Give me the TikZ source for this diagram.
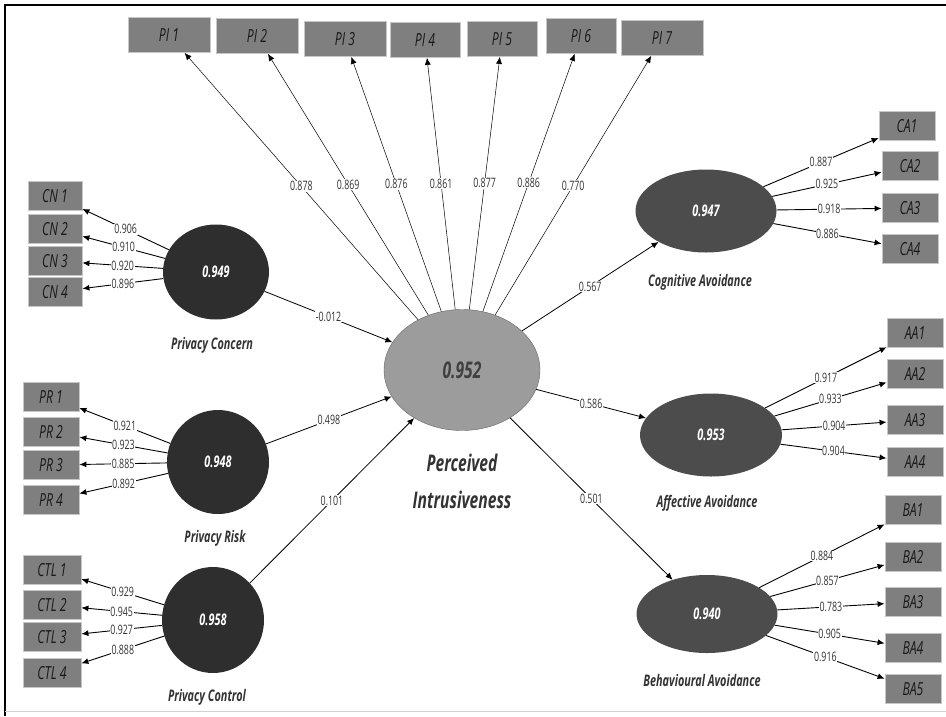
\documentclass[tikz,border=0pt]{standalone}
\usepackage{fontspec}
\setmainfont{Open Sans}[FakeStretch=0.68]
\usetikzlibrary{shapes.geometric,arrows.meta}

\definecolor{boxgray}{HTML}{7F7F7F}
\definecolor{latdark}{HTML}{2E2E2E}
\definecolor{latmid}{HTML}{4C4C4C}
\definecolor{latlight}{HTML}{9C9C9C}

\tikzset{
    ind/.style={rectangle, fill=boxgray, draw=gray!45, line width=0.8pt, minimum width=56pt, minimum height=29pt, inner sep=0pt, text=black!90, font=\itshape\fontsize{18}{18}\selectfont},
    pibox/.style={ind, minimum width=70pt, minimum height=35pt},
    lat/.style={ellipse, inner sep=0pt, text=white, font=\bfseries\itshape\fontsize{16}{16}\selectfont},
    latlab/.style={text=black!80, font=\bfseries\itshape\fontsize{16}{16}\selectfont},
    val/.style={fill=white, inner sep=0.6pt, text=black!80, font=\fontsize{13}{13}\selectfont},
    loading/.style={-{Latex[length=7pt,width=6pt]}, line width=0.9pt},
    thinload/.style={-{Latex[length=7pt,width=6pt]}, line width=0.5pt},
    coef/.style={-{Latex[length=7pt,width=6pt]}, line width=0.8pt},
}

\begin{document}
\begin{tikzpicture}[x=1pt, y=-1pt]
    \useasboundingbox (0,0) rectangle (946,716);
    \draw[line width=2pt] (5,716) -- (5,5) -- (946,5);
    \draw[gray!35, line width=1pt] (5,711) -- (946,711);

    \node[lat, fill=latlight, draw=black!60, minimum width=156pt, minimum height=121pt, text=black!75, font=\bfseries\itshape\fontsize{23}{23}\selectfont] (pi) at (462,370) {0.952};
    \node[latlab, align=center, font=\bfseries\itshape\fontsize{23}{37}\selectfont] (pilab) at (462,481) {Perceived\\Intrusiveness};

    \node[lat, fill=latdark, minimum width=106pt, minimum height=95pt] (pc) at (216,272) {0.949};
    \node[lat, fill=latdark, minimum width=102pt, minimum height=104pt] (pr) at (218,462) {0.948};
    \node[lat, fill=latdark, minimum width=102pt, minimum height=106pt] (pctl) at (213,620) {0.958};
    \node[latlab] (pclab) at (212,345) {Privacy Concern};
    \node[latlab] (prlab) at (215,538) {Privacy Risk};
    \node[latlab] (pctllab) at (207,697) {Privacy Control};

    \node[lat, fill=latmid, minimum width=141pt, minimum height=83pt] (ca) at (706,211) {0.947};
    \node[lat, fill=latmid, minimum width=142pt, minimum height=83pt] (aa) at (711,435) {0.953};
    \node[lat, fill=latmid, minimum width=141pt, minimum height=78pt] (ba) at (707,614) {0.940};
    \node[latlab] (calab) at (700,282) {Cognitive Avoidance};
    \node[latlab] (aalab) at (707,503) {Affective Avoidance};
    \node[latlab] (balab) at (702,680) {Behavioural Avoidance};

    \node[pibox, minimum width=82pt] (pi1) at (169,35) {PI 1};
    \node[pibox, minimum width=82pt] (pi2) at (257,36) {PI 2};
    \node[pibox, minimum width=82pt] (pi3) at (345,39) {PI 3};
    \node[pibox] (pi4) at (425,40) {PI 4};
    \node[pibox] (pi5) at (502,39) {PI 5};
    \node[pibox] (pi6) at (581,36) {PI 6};
    \node[pibox, minimum width=82pt] (pi7) at (662,38) {PI 7};

    \node[ind, minimum width=54pt] (cn1) at (55,196) {CN 1};
    \node[ind, minimum width=54pt] (cn2) at (55,229) {CN 2};
    \node[ind, minimum width=54pt] (cn3) at (55,261) {CN 3};
    \node[ind, minimum width=54pt] (cn4) at (55,292) {CN 4};

    \node[ind] (pr1) at (51,397) {PR 1};
    \node[ind] (pr2) at (51,432) {PR 2};
    \node[ind] (pr3) at (51,465) {PR 3};
    \node[ind] (pr4) at (51,500) {PR 4};

    \node[ind, minimum width=58pt] (ctl1) at (52,570) {CTL 1};
    \node[ind, minimum width=58pt] (ctl2) at (52,605) {CTL 2};
    \node[ind, minimum width=58pt] (ctl3) at (52,637) {CTL 3};
    \node[ind, minimum width=58pt] (ctl4) at (52,673) {CTL 4};

    \node[ind] (ca1) at (907,126) {CA1};
    \node[ind] (ca2) at (910,166) {CA2};
    \node[ind] (ca3) at (910,208) {CA3};
    \node[ind] (ca4) at (910,249) {CA4};

    \node[ind] (aa1) at (915,333) {AA1};
    \node[ind] (aa2) at (915,374) {AA2};
    \node[ind] (aa3) at (915,420) {AA3};
    \node[ind] (aa4) at (915,462) {AA4};

    \node[ind] (ba1) at (913,510) {BA1};
    \node[ind] (ba2) at (913,557) {BA2};
    \node[ind] (ba3) at (913,602) {BA3};
    \node[ind] (ba4) at (913,648) {BA4};
    \node[ind] (ba5) at (913,689) {BA5};

    \draw[thinload] (pi) -- node[val] {0.878} (pi1);
    \draw[thinload] (pi) -- node[val] {0.869} (pi2);
    \draw[thinload] (pi) -- node[val] {0.876} (pi3);
    \draw[thinload] (pi) -- node[val] {0.861} (pi4);
    \draw[thinload] (pi) -- node[val] {0.877} (pi5);
    \draw[thinload] (pi) -- node[val] {0.886} (pi6);
    \draw[thinload] (pi) -- node[val] {0.770} (pi7);

    \draw[loading] (pc) -- node[val] {0.906} (cn1);
    \draw[loading] (pc) -- node[val] {0.910} (cn2);
    \draw[loading] (pc) -- node[val] {0.920} (cn3);
    \draw[loading] (pc) -- node[val] {0.896} (cn4);

    \draw[loading] (pr) -- node[val] {0.921} (pr1);
    \draw[loading] (pr) -- node[val] {0.923} (pr2);
    \draw[loading] (pr) -- node[val] {0.885} (pr3);
    \draw[loading] (pr) -- node[val] {0.892} (pr4);

    \draw[loading] (pctl) -- node[val] {0.929} (ctl1);
    \draw[loading] (pctl) -- node[val] {0.945} (ctl2);
    \draw[loading] (pctl) -- node[val] {0.927} (ctl3);
    \draw[loading] (pctl) -- node[val] {0.888} (ctl4);

    \draw[loading] (ca) -- node[val] {0.887} (ca1);
    \draw[loading] (ca) -- node[val] {0.925} (ca2);
    \draw[loading] (ca) -- node[val] {0.918} (ca3);
    \draw[loading] (ca) -- node[val] {0.886} (ca4);

    \draw[loading] (aa) -- node[val] {0.917} (aa1);
    \draw[loading] (aa) -- node[val] {0.933} (aa2);
    \draw[loading] (aa) -- node[val] {0.904} (aa3);
    \draw[loading] (aa) -- node[val] {0.904} (aa4);

    \draw[loading] (ba) -- node[val] {0.884} (ba1);
    \draw[loading] (ba) -- node[val] {0.857} (ba2);
    \draw[loading] (ba) -- node[val] {0.783} (ba3);
    \draw[loading] (ba) -- node[val] {0.905} (ba4);
    \draw[loading] (ba) -- node[val] {0.916} (ba5);

    \draw[coef] (pc) -- node[val] {-0.012} (pi);
    \draw[coef] (pr) -- node[val] {0.498} (pi);
    \draw[coef] (pctl) -- node[val] {0.101} (pi);
    \draw[coef] (pi) -- node[val] {0.567} (ca);
    \draw[coef] (pi) -- node[val] {0.586} (aa);
    \draw[coef] (pi) -- node[val] {0.501} (ba);

\end{tikzpicture}
\end{document}
